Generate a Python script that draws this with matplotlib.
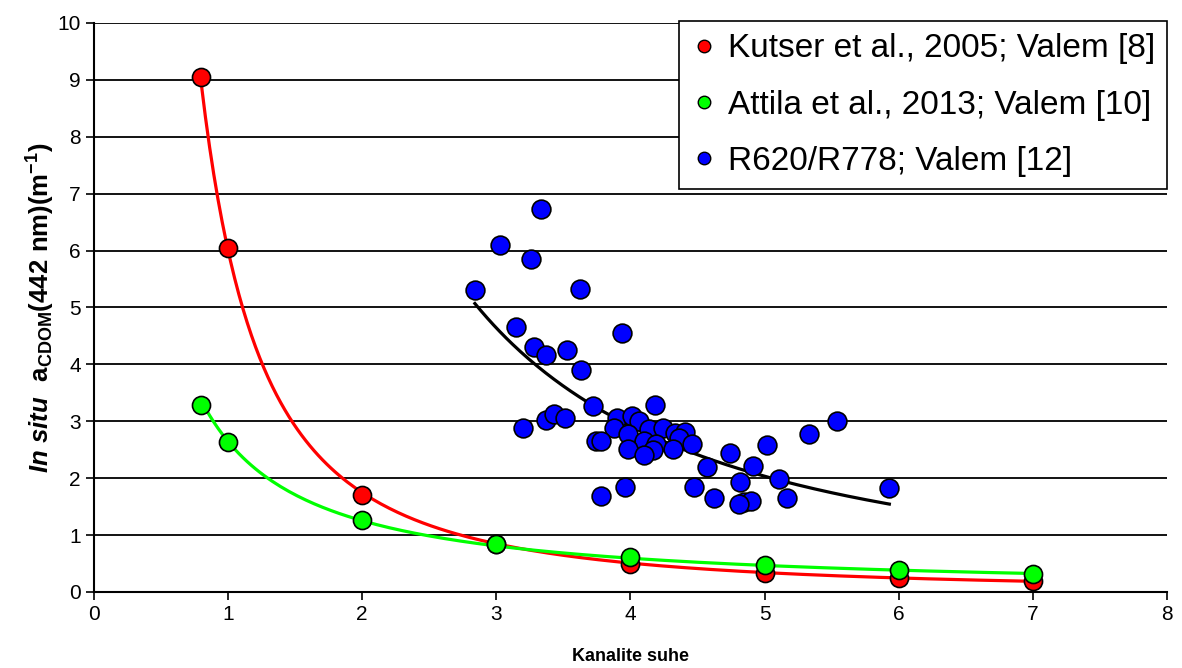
import numpy as np
import matplotlib
matplotlib.use("Agg")
import matplotlib.pyplot as plt
from matplotlib.lines import Line2D

plt.rcParams['font.family'] = ['Liberation Sans', 'DejaVu Sans']
plt.rcParams['mathtext.fontset'] = 'custom'
plt.rcParams['mathtext.rm'] = 'Liberation Sans:bold'
plt.rcParams['mathtext.bf'] = 'Liberation Sans:bold'
plt.rcParams['mathtext.it'] = 'Liberation Sans:italic:bold'

# Kanalite suhe vs in situ aCDOM
kutser_x = [0.8, 1, 2, 3, 4, 5, 6, 7]
kutser_y = [9.05, 6.04, 1.71, 0.84, 0.50, 0.34, 0.25, 0.19]

attila_x = [0.8, 1, 2, 3, 4, 5, 6, 7]
attila_y = [3.28, 2.63, 1.27, 0.84, 0.61, 0.47, 0.38, 0.31]

r620_x = [2.84, 3.62, 3.15, 3.28, 3.37, 3.53, 3.63, 3.72, 3.20, 3.37, 3.43, 3.51,
          3.33, 3.03, 3.26, 3.94, 4.18, 3.90, 4.01, 4.06, 3.88, 3.98, 4.14, 4.24,
          4.33, 4.41, 4.36, 4.46, 3.74, 3.78, 4.10, 4.19, 3.98, 4.17, 4.10, 4.32,
          3.96, 3.78, 4.47, 5.33, 5.02, 4.74, 4.57, 4.91, 5.11, 4.82, 4.62, 5.17,
          4.85, 4.90, 4.81, 5.54, 5.93]
r620_y = [5.30, 5.32, 4.65, 4.31, 4.17, 4.26, 3.90, 3.27, 2.89, 3.02, 3.12, 3.06,
          6.73, 6.09, 5.85, 4.56, 3.28, 3.06, 3.09, 3.01, 2.88, 2.77, 2.86, 2.88,
          2.79, 2.81, 2.71, 2.60, 2.66, 2.66, 2.65, 2.60, 2.52, 2.49, 2.41, 2.52,
          1.85, 1.68, 1.85, 2.78, 2.58, 2.44, 2.20, 2.21, 1.99, 1.93, 1.65, 1.66,
          1.59, 1.60, 1.54, 3.00, 1.82]

labels = ['Kutser et al., 2005; Valem [8]',
          'Attila et al., 2013; Valem [10]',
          'R620/R778; Valem [12]']


def power_trend(xs, ys):
    # power trendline y = a*x^b fitted in log-log space
    b, a = np.polyfit(np.log(xs), np.log(ys), 1)
    tx = np.linspace(min(xs), max(xs), 200)
    return tx, np.exp(a) * tx ** b


fig = plt.figure(figsize=(11.82, 6.68), dpi=100)
ax = fig.add_axes([0.0795, 0.1138, 0.9078, 0.8518])

for yv in range(1, 11):
    ax.axhline(yv, color='black', lw=1.3, zorder=1)

tx, ty = power_trend(kutser_x, kutser_y)
ax.plot(tx, ty, color='#ff0000', lw=2.3, zorder=2)
tx, ty = power_trend(attila_x, attila_y)
ax.plot(tx, ty, color='#00ff00', lw=2.3, zorder=2)
tx, ty = power_trend(r620_x, r620_y)
ax.plot(tx, ty, color='black', lw=2.3, zorder=2)

ax.plot(kutser_x, kutser_y, 'o', ms=13, mfc='#ff0000', mec='black', mew=1.2, zorder=3)
ax.plot(attila_x, attila_y, 'o', ms=13, mfc='#00ff00', mec='black', mew=1.2, zorder=4)
ax.plot(r620_x, r620_y, 'o', ms=13.5, mfc='#0000ff', mec='black', mew=1.2, zorder=5)

ax.set_xlim(0, 8)
ax.set_ylim(0, 10)
ax.set_xticks(range(0, 9))
ax.set_yticks(range(0, 11))
ax.tick_params(direction='out', length=6, width=1.2, labelsize=15, colors='black')
for s in ['top', 'right']:
    ax.spines[s].set_visible(False)
for s in ['left', 'bottom']:
    ax.spines[s].set_linewidth(1.5)

ax.set_xlabel('Kanalite suhe', fontsize=13, fontweight='bold', labelpad=17)
ax.set_ylabel(r'$\mathit{In\ situ}\ \ \mathrm{a_{CDOM}(442\ nm)(m^{-1})}$', fontsize=18.5, labelpad=0)

handles = [Line2D([], [], ls='none', marker='o', ms=9, mfc=c, mec='black', mew=1)
           for c in ['#ff0000', '#00ff00', '#0000ff']]
leg = ax.legend(handles, labels, loc='upper right', bbox_to_anchor=(1.0, 1.003), fontsize=24,
                frameon=True, fancybox=False, edgecolor='black', framealpha=1,
                handletextpad=0.3, handlelength=0.8, labelspacing=0.76, borderpad=0.36,
                borderaxespad=0)
leg.get_frame().set_linewidth(1.2)
leg.set_zorder(10)

fig.savefig('out.png', dpi=100)
